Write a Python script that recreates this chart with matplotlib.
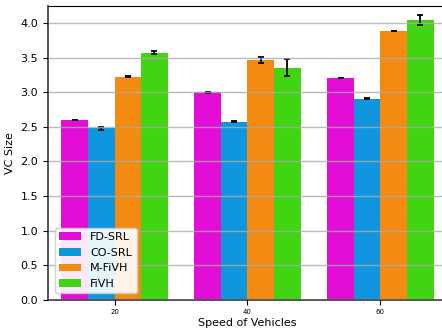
import matplotlib
matplotlib.use("Agg")
import matplotlib.pyplot as plt
import numpy as np

speeds = [20, 40, 60]
methods = ["FD-SRL", "CO-SRL", "M-FiVH", "FiVH"]
fd_srl = [2.60, 3.00, 3.205]
co_srl = [2.48, 2.575, 2.905]
m_fivh = [3.225, 3.465, 3.885]
fivh = [3.57, 3.355, 4.045]
fd_err = [0.005, 0.005, 0.005]
co_err = [0.02, 0.005, 0.005]
m_err = [0.005, 0.045, 0.005]
f_err = [0.025, 0.12, 0.075]
colors = ["#E20DD6", "#0F96DF", "#F38A12", "#40D412"]

values = [fd_srl, co_srl, m_fivh, fivh]
errors = [fd_err, co_err, m_err, f_err]

fig = plt.figure(figsize=(4.42, 3.32), dpi=100)
ax = fig.add_axes([0.1086, 0.0964, 0.9027, 0.8855])

width = 4
offsets = [-6, -2, 2, 6]
x = np.array(speeds, dtype=float)
for vals, errs, c, off, name in zip(values, errors, colors, offsets, methods):
    ax.bar(x + off, vals, width=width, color=c, label=name,
           yerr=errs, capsize=2, error_kw=dict(ecolor="black", elinewidth=1.3, capthick=1.3))

ax.set_xlim(10, 70)
ax.set_ylim(0, 4.245)
ax.set_xticks(speeds)
ax.set_xticklabels([str(s) for s in speeds], fontsize=5)
ax.set_yticks(np.arange(0, 4.01, 0.5))
ax.tick_params(axis="y", labelsize=8)
ax.tick_params(axis="x", pad=3)
ax.set_axisbelow(False)
ax.yaxis.grid(True, color="#aaaaaa", alpha=0.8, linewidth=1)
ax.set_xlabel("Speed of Vehicles", fontsize=8, labelpad=2)
ax.set_ylabel("VC Size", fontsize=8)
for s in ["left", "bottom"]:
    ax.spines[s].set_color("#444444")
    ax.spines[s].set_linewidth(1.3)
ax.spines["top"].set_color("black")
ax.legend(loc="lower left", fontsize=8, framealpha=0.9, borderaxespad=0.6)
fig.savefig("out.png", dpi=100)
